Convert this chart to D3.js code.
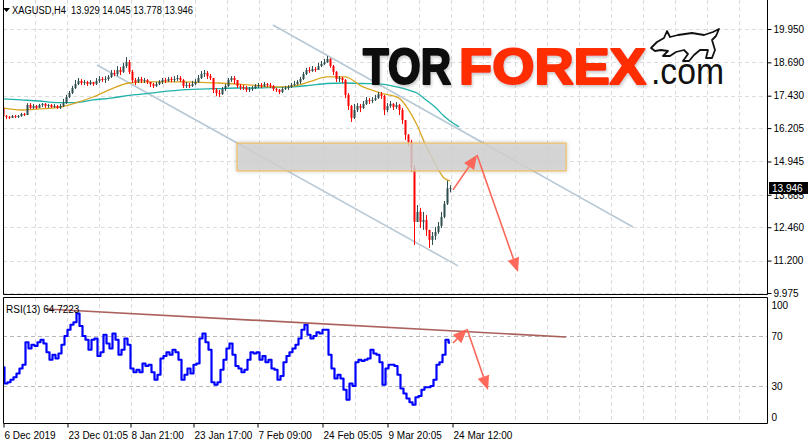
<!DOCTYPE html>
<html><head><meta charset="utf-8">
<script src="https://cdn.jsdelivr.net/npm/d3@7"></script>
<style>
body{margin:0;background:#fff}
svg{display:block}
text{font-family:"Liberation Sans",Arial,sans-serif}
</style>
</head><body>
<svg id="c" width="808" height="445"></svg>
<script>
// ---------------- DATA ----------------
const symbol = "XAGUSD,H4";
const headerOHLC = ["13.929","14.045","13.778","13.946"];
const lastPrice = 13.946;
const rsiLabel = "RSI(13) 64.7223";
const firstOpen = 16.97;
const closes = [
16.66,16.63,16.59,16.66,16.63,16.66,16.74,16.70,17.08,16.97,
17.04,16.97,17.08,17.12,17.04,17.08,17.00,17.04,16.97,17.04,
17.15,17.38,17.53,17.72,17.87,17.99,17.91,17.95,17.87,17.95,
17.87,17.99,18.06,18.02,18.06,18.14,18.29,18.25,18.40,18.33,
18.55,18.70,18.33,18.02,17.95,18.06,17.99,18.02,17.95,17.87,
17.80,17.87,17.95,18.02,17.99,18.06,18.02,18.06,18.10,18.02,
17.80,17.83,17.80,17.87,17.95,18.10,18.25,18.29,18.17,18.10,
17.65,17.53,17.49,17.68,17.80,18.02,18.10,18.02,17.80,17.76,
17.72,17.65,17.68,17.72,17.80,17.83,17.80,17.87,17.83,17.80,
17.68,17.65,17.57,17.68,17.72,17.76,17.83,17.87,17.95,18.06,
18.25,18.40,18.36,18.44,18.40,18.55,18.63,18.70,18.82,18.55,
18.33,18.06,18.10,18.02,17.46,17.04,16.59,16.89,17.04,16.97,
17.12,17.27,17.23,17.27,17.34,17.49,17.42,16.89,17.04,17.12,
17.00,17.08,16.89,16.51,15.95,15.68,14.70,12.66,13.04,12.66,
12.73,12.36,11.98,12.13,12.28,12.51,12.85,13.35,13.93,13.946];
const highs = [
17.04,16.70,16.66,16.70,16.70,16.70,16.78,16.78,17.15,17.15,
17.12,17.08,17.12,17.15,17.15,17.12,17.12,17.12,17.08,17.12,
17.31,17.46,17.61,17.80,18.02,18.10,18.06,18.02,17.99,18.02,
17.95,18.10,18.17,18.14,18.17,18.21,18.40,18.40,18.55,18.51,
18.67,18.89,18.78,18.40,18.10,18.14,18.14,18.10,18.06,17.95,
17.91,17.95,18.02,18.10,18.10,18.14,18.14,18.17,18.21,18.17,
18.06,17.95,17.91,17.99,18.06,18.21,18.36,18.40,18.36,18.25,
18.02,17.72,17.65,17.76,17.87,18.10,18.17,18.17,18.02,17.87,
17.83,17.80,17.76,17.80,17.87,17.91,17.91,17.95,17.91,17.91,
17.83,17.72,17.68,17.76,17.80,17.83,17.91,17.99,18.02,18.14,
18.33,18.48,18.51,18.55,18.51,18.67,18.74,18.82,18.93,18.85,
18.59,18.36,18.17,18.14,18.06,17.53,17.08,17.12,17.15,17.12,
17.23,17.38,17.34,17.38,17.46,17.57,17.57,17.46,17.15,17.23,
17.15,17.19,17.12,16.97,16.51,15.98,15.76,14.81,13.30,13.19,
13.04,12.92,12.36,12.28,12.47,12.66,13.04,13.45,14.22,14.045];
const lows = [
16.59,16.55,16.55,16.59,16.59,16.59,16.63,16.66,16.70,16.93,
16.93,16.93,16.97,17.00,16.97,16.97,16.97,16.97,16.93,16.93,
17.00,17.12,17.34,17.49,17.68,17.83,17.83,17.83,17.80,17.83,
17.80,17.83,17.91,17.95,17.91,17.99,18.10,18.17,18.17,18.21,
18.29,18.48,18.25,17.91,17.83,17.91,17.91,17.91,17.87,17.76,
17.72,17.76,17.83,17.87,17.91,17.95,17.95,17.95,17.99,17.95,
17.72,17.72,17.72,17.76,17.83,17.91,18.06,18.14,18.06,18.02,
17.53,17.42,17.38,17.46,17.61,17.76,17.95,17.87,17.72,17.65,
17.65,17.57,17.57,17.61,17.68,17.72,17.72,17.76,17.76,17.72,
17.61,17.57,17.49,17.53,17.65,17.65,17.72,17.80,17.83,17.87,
18.02,18.21,18.29,18.33,18.33,18.40,18.51,18.59,18.67,18.48,
18.21,17.95,17.95,17.91,17.34,16.89,16.44,16.55,16.81,16.81,
16.93,17.08,17.12,17.15,17.23,17.31,17.31,16.70,16.81,16.97,
16.89,16.93,16.70,16.36,15.76,15.53,14.55,11.79,12.66,12.43,
12.36,12.13,11.68,11.79,11.98,12.21,12.43,12.80,13.30,13.778];
const rsiValues = [
45,32,33,35,37,40,44,47,65,60,
63,62,65,67,64,57,51,55,52,56,
63,70,75,79,81,88,78,70,67,59,
67,68,54,57,71,64,60,72,67,55,
59,68,63,44,41,43,41,48,46,47,
41,35,39,52,54,57,55,59,57,51,
35,39,44,40,47,48,68,72,65,59,
33,31,33,43,51,60,64,55,46,44,
41,43,51,57,56,57,51,54,49,51,
44,43,35,38,49,54,57,60,63,68,
75,79,71,68,70,73,72,75,75,55,
44,36,39,36,27,19,32,30,49,51,
50,51,52,59,56,55,49,31,44,47,
47,46,39,28,24,20,17,15,21,22,
27,29,29,30,35,47,49,55,67,64.72];
const maIdx  = [0,6,12,18,24,30,36,42,48,54,60,66,72,78,84,90,96,102,108,114,120,126,132,135,138,141,144,147,149,152];
const maFast = [16.97,16.89,16.93,16.98,17.15,17.38,17.68,17.91,17.95,17.95,17.95,17.93,17.91,17.87,17.82,17.76,17.78,17.95,18.14,18.14,17.76,17.53,17.34,16.93,16.32,15.53,14.88,14.32,14.21];
const maSlow = [17.31,17.27,17.23,17.17,17.17,17.27,17.34,17.44,17.51,17.59,17.65,17.68,17.70,17.72,17.72,17.74,17.76,17.82,17.89,17.91,17.89,17.87,17.74,17.65,17.53,17.27,17.00,16.66,16.47,16.25];
const priceTicks = [19.950,18.690,17.430,16.205,14.945,13.685,12.460,11.200,9.975];
const rsiTicks = [100,70,30,0];
const rsiLevels = [70,30];
const dateLabels = ["6 Dec 2019","23 Dec 01:05","8 Jan 21:00","23 Jan 17:00","7 Feb 09:00","24 Feb 05:05","9 Mar 20:05","24 Mar 12:00"];
const dateIdx = [0,21.33,42.33,63.33,84.67,106.33,128,149.67];
// annotations (bar index, price / rsi)
const zoneIdx = [78,187.7];
const zonePrice = [14.59,15.64];
const channelUpper = [[90,20.10],[210,12.47]];
const channelLower = [[31.33,18.59],[151.67,11.00]];
const rsiTrend = [[14.33,91.6],[187.67,69.2]];
const priceArrow = [[150,13.87],[158,15.19],[171.67,10.77]];
const rsiArrow = [[150,64.4],[154.67,75.6],[161.67,26.8]];

// ---------------- CHART ----------------
const svg = d3.select("#c");
const L = 3, R = 767, MT = 0, MB = 294, RT = 297, RB = 423;
const xS = d3.scaleLinear().domain([0,150]).range([3,453]);
const yP = d3.scaleLinear().domain([9.975,19.95]).range([293,29]);
const yR = d3.scaleLinear().domain([0,100]).range([423.5,298.5]);

const defs = svg.append("defs");
defs.append("clipPath").attr("id","cm").append("rect").attr("x",L).attr("y",MT).attr("width",R-L).attr("height",MB-MT);
defs.append("clipPath").attr("id","cr").append("rect").attr("x",L).attr("y",RT).attr("width",R-L).attr("height",RB-RT);
const f = defs.append("filter").attr("id","sh").attr("x","-10%").attr("y","-40%").attr("width","120%").attr("height","180%");
f.append("feDropShadow").attr("dx",0).attr("dy",0).attr("stdDeviation",2).attr("flood-color","#999").attr("flood-opacity",0.6);
const lf = defs.append("filter").attr("id","lsh").attr("x","-5%").attr("y","-20%").attr("width","110%").attr("height","140%");
lf.append("feDropShadow").attr("dx",1).attr("dy",2).attr("stdDeviation",1.5).attr("flood-color","#888").attr("flood-opacity",0.45);

const gridX = d3.range(35, R, 32);
const gridCol = "#dcdcdc";

// ---- main panel ----
const gm = svg.append("g").attr("clip-path","url(#cm)");
gm.selectAll(".hg").data(priceTicks).join("line")
  .attr("x1",L).attr("x2",R).attr("y1",d=>Math.round(yP(d))+0.5).attr("y2",d=>Math.round(yP(d))+0.5)
  .attr("stroke",gridCol).attr("stroke-dasharray","4,3");
gm.selectAll(".vg").data(gridX).join("line")
  .attr("x1",d=>d+0.5).attr("x2",d=>d+0.5).attr("y1",MT).attr("y2",MB)
  .attr("stroke",gridCol).attr("stroke-dasharray","4,3");

const segLine = d3.line().x(d=>xS(d[0])).y(d=>yP(d[1]));
[channelUpper, channelLower].forEach(c=>{
  gm.append("path").attr("d",segLine(c)).attr("fill","none").attr("stroke","#b8c9d6").attr("stroke-width",1.6);
});

const maLine = d3.line().x(d=>xS(d[0])).y(d=>yP(d[1])).curve(d3.curveMonotoneX);
gm.append("path").attr("d",maLine(maSlow.map((v,i)=>[maIdx[i],v]))).attr("fill","none").attr("stroke","#20b2aa").attr("stroke-width",1.3);
gm.append("path").attr("d",maLine(maFast.map((v,i)=>[maIdx[i],v]))).attr("fill","none").attr("stroke","#daa520").attr("stroke-width",1.3);

const candles = closes.map((c,i)=>({i, o: i? closes[i-1] : firstOpen, c, h: highs[i], l: lows[i]}));
const cg = gm.append("g");
cg.selectAll("line").data(candles).join("line")
  .attr("x1",d=>Math.round(xS(d.i))+0.5).attr("x2",d=>Math.round(xS(d.i))+0.5)
  .attr("y1",d=>yP(Math.max(d.h,d.o,d.c))).attr("y2",d=>yP(Math.min(d.l,d.o,d.c)))
  .attr("stroke",d=>d.c>=d.o?"#2f4f4f":"#ff0000").attr("stroke-width",1);
cg.selectAll("rect").data(candles).join("rect")
  .attr("x",d=>Math.round(xS(d.i))-0.5).attr("width",2)
  .attr("y",d=>yP(Math.max(d.o,d.c))).attr("height",d=>Math.max(1,Math.abs(yP(d.o)-yP(d.c))))
  .attr("fill",d=>d.c>=d.o?"#2f4f4f":"#ff0000");

// zone
gm.append("rect")
  .attr("x",xS(zoneIdx[0])).attr("y",yP(zonePrice[1]))
  .attr("width",xS(zoneIdx[1])-xS(zoneIdx[0])).attr("height",yP(zonePrice[0])-yP(zonePrice[1]))
  .attr("fill","#d4d4d4").attr("fill-opacity",0.75).attr("stroke","#f0c060").attr("stroke-width",1.2)
  .attr("filter","url(#sh)");

function drawArrow(g, pts, xs, ys){
  const p = pts.map(d=>[xs(d[0]), ys(d[1])]);
  const col = "#fa6858";
  for(let k=0;k<p.length-1;k++){
    const [x0,y0]=p[k],[x1,y1]=p[k+1];
    const a = Math.atan2(y1-y0,x1-x0), len=14, hw=6;
    const bx = x1-len*Math.cos(a), by = y1-len*Math.sin(a);
    g.append("line").attr("x1",x0).attr("y1",y0).attr("x2",bx).attr("y2",by)
      .attr("stroke",col).attr("stroke-width",1.6);
    g.append("path").attr("d",`M${x1},${y1}L${bx+hw*Math.sin(a)},${by-hw*Math.cos(a)}L${bx-hw*Math.sin(a)},${by+hw*Math.cos(a)}Z`)
      .attr("fill","#ff5a4a").attr("fill-opacity",0.9);
  }
}
drawArrow(gm, priceArrow, xS, yP);

// logo
const lg = svg.append("g");
lg.append("text").attr("x",363).attr("y",84).text("TOR")
  .attr("font-family","Roboto, Lato, sans-serif").attr("font-weight",900).attr("font-size",50)
  .attr("fill","#0b0b0b").attr("stroke","#0b0b0b").attr("stroke-width",2.2).attr("stroke-linejoin","round")
  .attr("textLength",88).attr("lengthAdjust","spacingAndGlyphs").attr("filter","url(#lsh)");
lg.append("text").attr("x",459).attr("y",84).text("FOREX")
  .attr("font-family","Roboto, Lato, sans-serif").attr("font-weight",900).attr("font-size",50)
  .attr("fill","#ff2d06").attr("stroke","#ff2d06").attr("stroke-width",2.2).attr("stroke-linejoin","round")
  .attr("textLength",187).attr("lengthAdjust","spacingAndGlyphs").attr("filter","url(#lsh)");
lg.append("text").attr("x",651).attr("y",84).text(".com")
  .attr("font-family","'Liberation Mono', monospace").attr("font-size",36)
  .attr("fill","#111").attr("textLength",73).attr("lengthAdjust","spacingAndGlyphs");
lg.append("path")
  .attr("d","M651,48 L657,42 L664,38 L667,31 L670,37 L678,35 L692,33 L704,35 L713,32 L719,29 L716,36 L712,40 L715,50 L712,58 L706,58 L708,50 L700,50 L694,55 L689,61 L683,61 L688,54 L684,50 L676,52 L670,56 L663,56 L668,51 L661,50 L655,51 Z")
  .attr("fill","#fff").attr("stroke","#111").attr("stroke-width",1.8).attr("stroke-linejoin","round");

// ---- RSI panel ----
const gr = svg.append("g").attr("clip-path","url(#cr)");
gr.selectAll(".vg").data(gridX).join("line")
  .attr("x1",d=>d+0.5).attr("x2",d=>d+0.5).attr("y1",RT).attr("y2",RB)
  .attr("stroke",gridCol).attr("stroke-dasharray","4,3");
gr.selectAll(".lv").data(rsiLevels).join("line")
  .attr("x1",L).attr("x2",R).attr("y1",d=>Math.round(yR(d))+0.5).attr("y2",d=>Math.round(yR(d))+0.5)
  .attr("stroke","#b8b8b8").attr("stroke-dasharray","4,3");
gr.append("path").attr("d",d3.line().x((d,i)=>xS(i)).y(d=>yR(d)).curve(d3.curveStep)(rsiValues))
  .attr("fill","none").attr("stroke","#0000ff").attr("stroke-width",2.2).attr("stroke-linejoin","round");
gr.append("path").attr("d",d3.line().x(d=>xS(d[0])).y(d=>yR(d[1]))(rsiTrend))
  .attr("fill","none").attr("stroke","#a2514c").attr("stroke-width",1.7).attr("stroke-opacity",0.9);
drawArrow(gr, rsiArrow, xS, yR);
svg.append("text").attr("x",6).attr("y",313).attr("font-size",10).attr("fill","#000").text(rsiLabel);

// ---- frames & axes ----
const fr = svg.append("g").attr("fill","none").attr("stroke","#000");
fr.append("path").attr("d",`M${L+0.5},${MT}V${MB+0.5}H${R+0.5}V${MT}`);
fr.append("path").attr("d",`M${L+0.5},${RT+0.5}H${R+0.5}V${RB+0.5}H${L+0.5}Z`);

const ax = svg.append("g").attr("transform",`translate(${R+0.5},0)`)
  .call(d3.axisRight(yP).tickValues(priceTicks).tickFormat(d3.format(".3f")).tickSize(4).tickPadding(2));
ax.select(".domain").remove();
ax.selectAll("text").attr("font-family","'Liberation Sans',Arial,sans-serif").attr("font-size",10).attr("fill","#000");

const axr = svg.append("g").attr("transform",`translate(${R+0.5},0)`)
  .call(d3.axisRight(yR).tickValues(rsiTicks).tickSize(0).tickPadding(4));
axr.select(".domain").remove();
axr.selectAll("text").attr("font-family","'Liberation Sans',Arial,sans-serif").attr("font-size",10).attr("fill","#000")
  .attr("dy",d=>d===100?"0.95em":d===0?"-0.3em":"0.32em");

const axb = svg.append("g").attr("transform",`translate(0,${RB+0.5})`)
  .call(d3.axisBottom(xS).tickValues(dateIdx).tickFormat((d,i)=>dateLabels[i]).tickSize(4).tickPadding(4));
axb.select(".domain").remove();
axb.selectAll(".tick line").attr("transform","translate(0.5,0)");
axb.selectAll("text").attr("text-anchor","start").attr("x",1)
  .attr("font-family","'Liberation Sans',Arial,sans-serif").attr("font-size",10).attr("fill","#000");

// bid label
const by = Math.round(yP(lastPrice));
svg.append("rect").attr("x",769).attr("y",by-6).attr("width",39).attr("height",12).attr("fill","#000");
svg.append("text").attr("x",772).attr("y",by+4).attr("font-size",10).attr("fill","#fff").text(lastPrice.toFixed(3));

// title
svg.append("path").attr("d","M3,8 L10,8 L6.5,12 Z").attr("fill","#000");
svg.append("text").attr("x",12).attr("y",14).attr("font-size",10).attr("fill","#000")
  .style("white-space","pre").attr("textLength",181).attr("lengthAdjust","spacingAndGlyphs")
  .text(symbol + "  " + headerOHLC.join(" "));
</script>
</body></html>
